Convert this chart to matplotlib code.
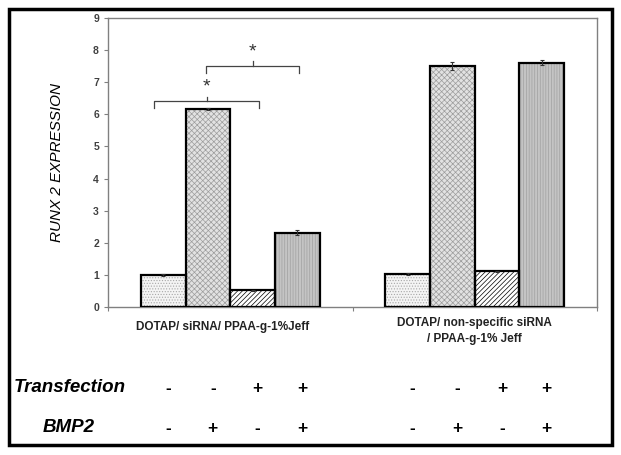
import numpy as np
import matplotlib.pyplot as plt
from matplotlib.patches import Rectangle
from matplotlib.transforms import blended_transform_factory

plt.rcParams['font.family'] = ['Liberation Sans', 'DejaVu Sans']
plt.rcParams['hatch.linewidth'] = 0.5

groups = ['DOTAP/ siRNA/ PPAA-g-1%Jeff', 'DOTAP/ non-specific siRNA\n/ PPAA-g-1% Jeff']
sirna = [1.00, 6.17, 0.52, 2.31]
sirna_err = [0.02, 0.03, 0.02, 0.08]
nonspecific = [1.02, 7.50, 1.11, 7.61]
nonspecific_err = [0.03, 0.12, 0.02, 0.07]
transfection = ['-', '-', '+', '+']
bmp2 = ['-', '+', '-', '+']
yticks = list(range(0, 10))

# (face, hatch, hatch colour) per treatment
styles = [('#f4f4f4', '......', '#a8a8a8'),
          ('#e2e2e2', 'xxxxxx', '#9c9c9c'),
          ('white', '///////', 'black'),
          ('#c4c4c4', '||||||', '#a0a0a0')]

fig = plt.figure(figsize=(6.21, 4.55), dpi=100)
ax = fig.add_axes([108/621, 1-307/455, 489/621, 289/455])

w = 0.183
vals = np.array([sirna, nonspecific])
errs = np.array([sirna_err, nonspecific_err])
gx = np.arange(len(groups))
centers = []
for k, (face, hatch, hc) in enumerate(styles):
    x = gx + (k - 1.5) * w
    centers.append(x)
    ax.bar(x, vals[:, k], w, color=face, hatch=hatch, edgecolor=hc, lw=0, zorder=2)
    ax.bar(x, vals[:, k], w, fill=False, edgecolor='black', lw=1.6, zorder=3)
    ax.errorbar(x, vals[:, k], yerr=errs[:, k], fmt='none', ecolor='#333333',
                elinewidth=0.8, capsize=1.5, capthick=0.8, zorder=4)
centers = np.array(centers).T  # [group, treatment]

ax.set_xlim(-0.5, 1.5)
ax.set_ylim(0, 9)
ax.set_yticks(yticks)
ax.set_yticklabels([str(t) for t in yticks], fontsize=7.5, fontweight='bold', color='#404040')
ax.set_xticks([-0.5, 0.5, 1.5])
ax.set_xticklabels([])
ax.tick_params(axis='both', color='#808080', length=3, width=0.8)
for s in ax.spines.values():
    s.set_color('#808080')
    s.set_linewidth(1.0)
ax.set_ylabel('RUNX 2 EXPRESSION', fontsize=11, fontstyle='italic')
ax.yaxis.set_label_coords(-0.09, 0.5)

# significance brackets
def bracket(xc, half, y, star_y):
    ax.plot([xc - half, xc - half, xc + half, xc + half], [y - 0.2, y, y, y - 0.2],
            color='#444444', lw=0.9, zorder=5)
    ax.plot([xc, xc], [y, y + 0.15], color='#444444', lw=0.9, zorder=5)
    ax.text(xc, star_y, '*', ha='center', va='center', fontsize=14, color='#333333')

bracket(centers[0, 1] - 0.005, 0.215, 6.4, 6.85)
bracket(centers[0, 2], 0.19, 7.5, 7.95)

# category labels
tr = blended_transform_factory(ax.transData, fig.transFigure)
ax.text(gx[0] - 0.03, 1-327/455, groups[0], transform=tr, ha='center', va='center',
        fontsize=8.5, fontweight='bold', color='#222222')
ax.text(gx[1], 1-331/455, groups[1], transform=tr, ha='center', va='center',
        fontsize=8.5, fontweight='bold', color='#222222', linespacing=1.5)

# treatment table
fig.text(70/621, 1-388/455, 'Transfection', ha='center', va='center',
         fontsize=13.5, fontweight='bold', fontstyle='italic')
fig.text(69/621, 1-428/455, 'BMP2', ha='center', va='center',
         fontsize=13.5, fontweight='bold', fontstyle='italic')
for g in range(len(groups)):
    for k in range(len(transfection)):
        x = centers[g, k] + 0.02
        ax.text(x, 1-388/455, transfection[k], transform=tr, ha='center', va='center',
                fontsize=12.5, fontweight='bold')
        ax.text(x, 1-428/455, bmp2[k], transform=tr, ha='center', va='center',
                fontsize=12.5, fontweight='bold')

fig.patches.append(Rectangle((9/621, 1-445/455), 603/621, 436/455, transform=fig.transFigure,
                             fill=False, ec='black', lw=2.5))

fig.savefig('out.png', dpi=100)
